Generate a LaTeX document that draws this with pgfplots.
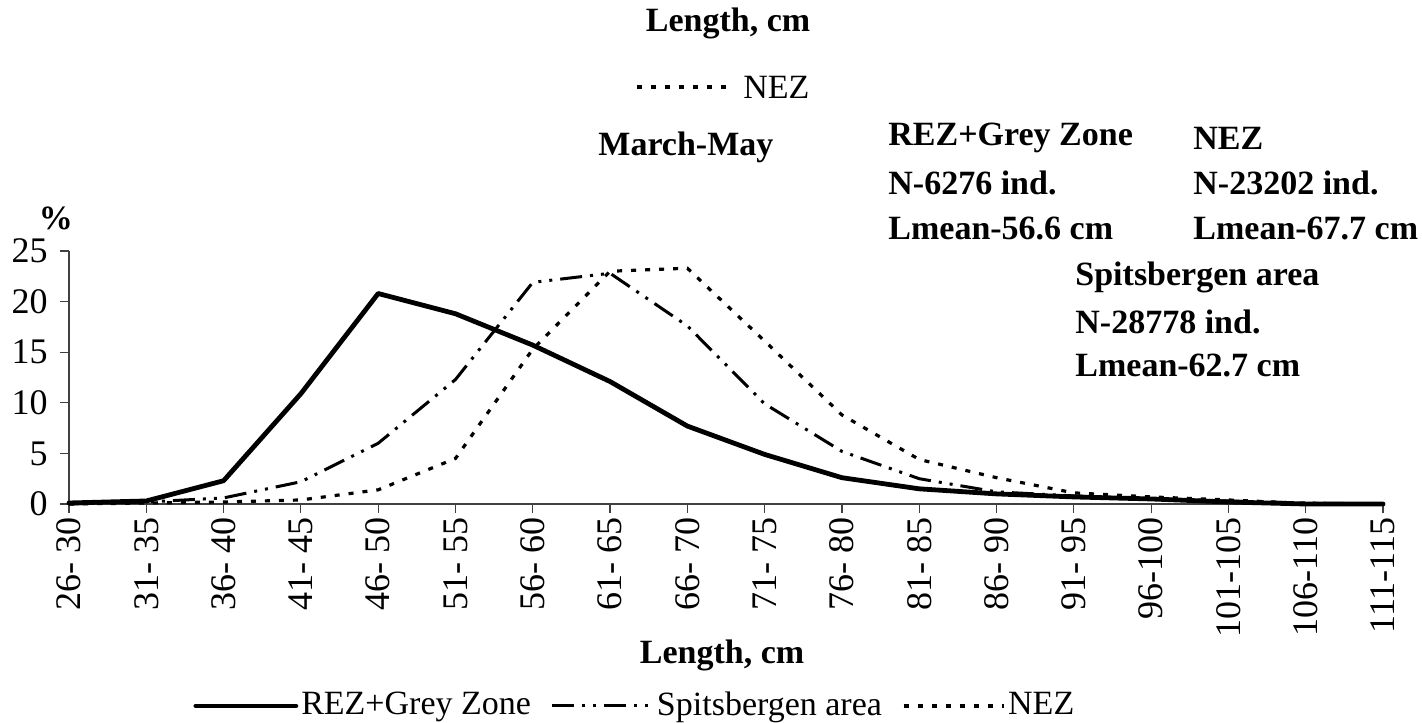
\documentclass[border=0pt]{standalone}
\usepackage{fontspec}
\setmainfont{Liberation Serif}
\usepackage{pgfplots}
\usepackage{pgfplotstable}
\pgfplotsset{compat=1.18}

% length classes 26-30 ... 111-115 as 0..17
\pgfplotstableread{
idx rez spits nez
0  0.1  0.0  0.0
1  0.3  0.2  0.1
2  2.3  0.6  0.2
3  10.9 2.2  0.4
4  20.8 6.0  1.4
5  18.8 12.3 4.5
6  15.7 21.9 15.3
7  12.1 22.8 23.0
8  7.7  17.6 23.3
9  4.9  9.9  16.1
10 2.6  5.2  8.8
11 1.5  2.5  4.4
12 1.0  1.2  2.6
13 0.7  0.8  1.1
14 0.5  0.5  0.7
15 0.2  0.3  0.4
16 0.0  0.1  0.05
17 0.0  0.0  0.0
}\data

\tikzset{
  rezline/.style={black, line width=2.4pt, line join=round, line cap=round},
  spitsline/.style={black, line width=1.5pt, dash pattern=on 11pt off 4pt on 1.5pt off 4pt on 1.5pt off 4pt},
  nezline/.style={black, line width=1.6pt, dash pattern=on 2.5pt off 4.5pt},
}

\begin{document}
\fontsize{17}{20}\selectfont
\begin{tikzpicture}
\useasboundingbox (0pt,0pt) rectangle (711pt,-361pt);

\begin{axis}[
    at={(34.5pt,-252pt)}, anchor=south west,
    scale only axis, width=657pt, height=126.5pt,
    xmin=0, xmax=17, ymin=0, ymax=25,
    axis x line*=bottom, axis y line*=left,
    axis line style={black!75, line width=0.6pt},
    tick style={black!75, line width=0.6pt},
    tick align=outside, major tick length=4.5pt,
    xtick={0,...,17},
    xticklabels={26- 30,31- 35,36- 40,41- 45,46- 50,51- 55,56- 60,61- 65,66- 70,71- 75,76- 80,81- 85,86- 90,91- 95,96-100,101-105,106-110,111-115},
    xticklabel style={rotate=90, anchor=east, inner sep=2pt, font=\fontsize{18}{20}\selectfont},
    ytick={0,5,...,25},
    yticklabel style={inner sep=2pt, xshift=-4pt, font=\fontsize{18}{20}\selectfont},
    /pgf/number format/assume math mode=true,
    clip=false,
    legend style={at={(0.0944,-0.798)}, anchor=west, draw=none, fill=none,
        inner sep=0pt, nodes={inner sep=1.5pt}, legend columns=3,
        /tikz/every even column/.append style={column sep=8.5pt}},
    legend image code/.code={\draw[#1] (0pt,0pt) -- (50pt,0pt);},
]
\addplot[rezline] table[x=idx, y=rez] {\data};
\addplot[spitsline] table[x=idx, y=spits] {\data};
\addplot[nezline] table[x=idx, y=nez] {\data};
\legend{REZ+Grey Zone, Spitsbergen area, NEZ}
\end{axis}

\begin{scope}[x=0.5pt, y=-0.5pt]
\node[font=\bfseries] at (728,23) {Length, cm};
\draw[nezline] (637,87) -- (733,87);
\node[anchor=west, inner sep=0pt] at (743,87) {NEZ};

\node[font=\bfseries, anchor=west, inner sep=0pt] at (598,147) {March-May};
\node[font=\bfseries, anchor=west, inner sep=0pt] at (888,138) {REZ+Grey Zone};
\node[font=\bfseries, anchor=west, inner sep=0pt] at (888,183) {N-6276 ind.};
\node[font=\bfseries, anchor=west, inner sep=0pt] at (888,228) {Lmean-56.6 cm};
\node[font=\bfseries, anchor=west, inner sep=0pt] at (1193,138) {NEZ};
\node[font=\bfseries, anchor=west, inner sep=0pt] at (1193,183) {N-23202 ind.};
\node[font=\bfseries, anchor=west, inner sep=0pt] at (1193,228) {Lmean-67.7 cm};
\node[font=\bfseries, anchor=west, inner sep=0pt] at (1075,277) {Spitsbergen area};
\node[font=\bfseries, anchor=west, inner sep=0pt] at (1075,322) {N-28778 ind.};
\node[font=\bfseries, anchor=west, inner sep=0pt] at (1075,365) {Lmean-62.7 cm};
\node[font=\bfseries] at (56,218) {\%};
\node[font=\bfseries] at (722,655) {Length, cm};
\end{scope}
\end{tikzpicture}
\end{document}
